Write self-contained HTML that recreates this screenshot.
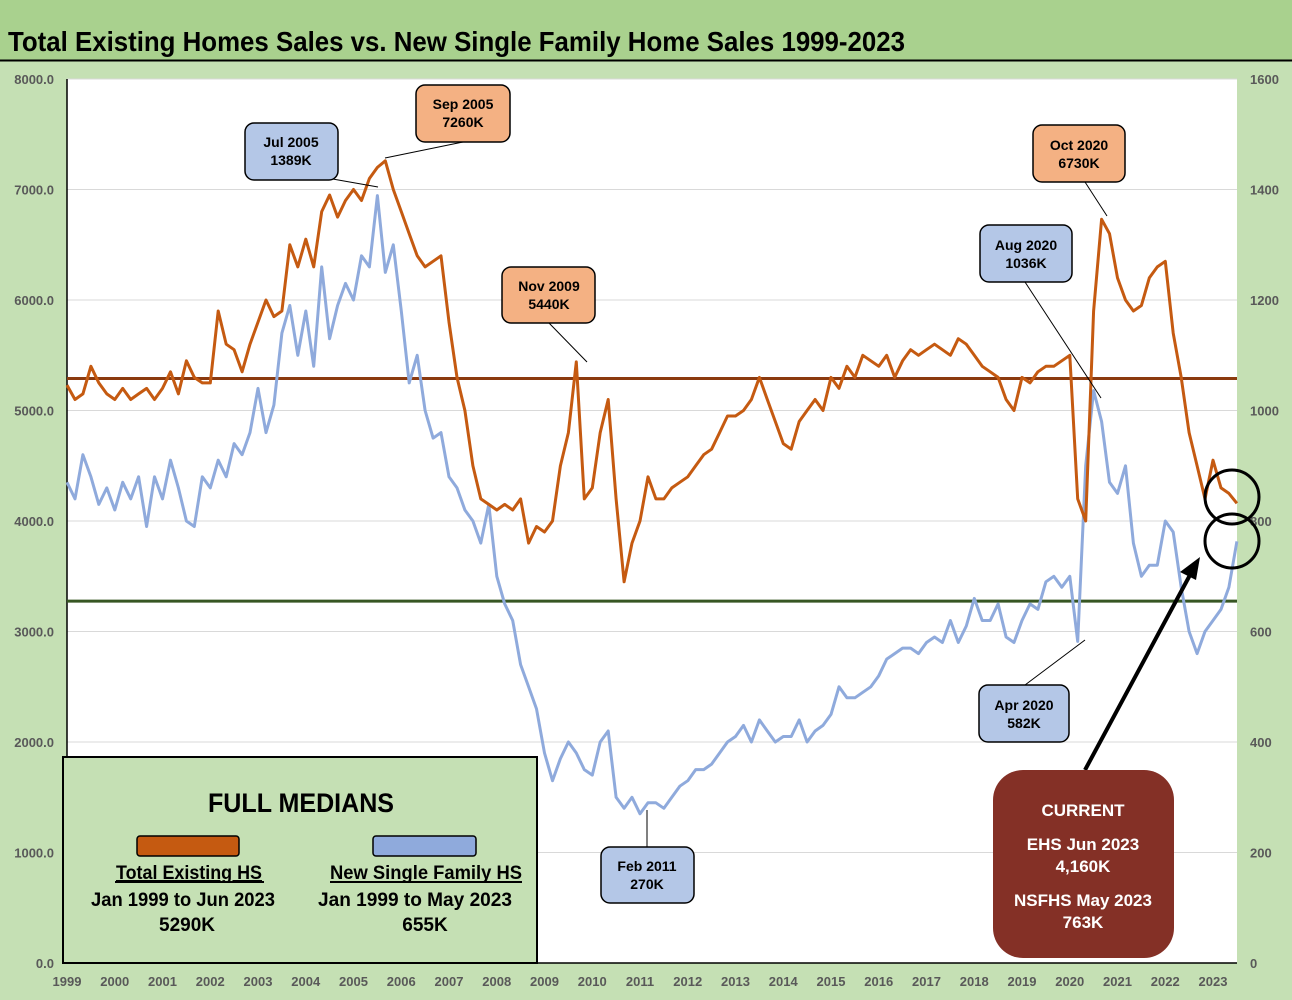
<!DOCTYPE html>
<html><head><meta charset="utf-8"><style>
body{margin:0;background:#c5e0b4;}
svg{display:block;font-family:"Liberation Sans",Arial,sans-serif;}
</style></head><body>
<svg id="chart" width="1292" height="1000" viewBox="0 0 1292 1000">
<rect x="0" y="0" width="1292" height="1000" fill="#c5e0b4"/>
<rect x="0" y="0" width="1292" height="60" fill="#a9d18e"/>
<line x1="0" y1="60.5" x2="1292" y2="60.5" stroke="#000" stroke-width="2"/>
<text x="8" y="51" font-size="28" font-weight="bold" textLength="897" lengthAdjust="spacingAndGlyphs">Total Existing Homes Sales vs. New Single Family Home Sales 1999-2023</text>
<rect x="67" y="79" width="1170" height="884" fill="#fff"/>
<g id="grid"></g>
<g id="axes"></g>
<g id="medians"></g>
<g id="series"></g>
<g id="annot"></g>
</svg>
<script>
const years = ['1999','2000','2001','2002','2003','2004','2005','2006','2007','2008','2009','2010','2011','2012','2013','2014','2015','2016','2017','2018','2019','2020','2021','2022','2023'];
const leftTicks = [0,1000,2000,3000,4000,5000,6000,7000,8000];
const rightTicks = [0,200,400,600,800,1000,1200,1400,1600];
// bi-monthly samples (Jan, Mar, May, Jul, Sep, Nov) starting Jan 1999
const ehsValues = [
5230,5100,5150,5400,5250,5150,
5100,5200,5100,5150,5200,5100,
5200,5350,5150,5450,5300,5250,
5250,5900,5600,5550,5350,5600,
5800,6000,5850,5900,6500,6300,
6550,6300,6800,6950,6750,6900,
7000,6900,7100,7200,7260,7000,
6800,6600,6400,6300,6350,6400,
5800,5300,5000,4500,4200,4150,
4100,4150,4100,4200,3800,3950,
3900,4000,4500,4800,5440,4200,
4300,4800,5100,4200,3450,3800,
4000,4400,4200,4200,4300,4350,
4400,4500,4600,4650,4800,4950,
4950,5000,5100,5300,5100,4900,
4700,4650,4900,5000,5100,5000,
5300,5200,5400,5300,5500,5450,
5400,5500,5300,5450,5550,5500,
5550,5600,5550,5500,5650,5600,
5500,5400,5350,5300,5100,5000,
5300,5250,5350,5400,5400,5450,
5500,4200,4000,5900,6730,6600,
6200,6000,5900,5950,6200,6300,
6350,5700,5300,4800,4500,4200,
4550,4300,4250,4160];
const nsfValues = [
870,840,920,880,830,860,
820,870,840,880,790,880,
840,910,860,800,790,880,
860,910,880,940,920,960,
1040,960,1010,1140,1190,1100,
1180,1080,1260,1130,1190,1230,
1200,1280,1260,1389,1250,1300,
1180,1050,1100,1000,950,960,
880,860,820,800,760,830,
700,650,620,540,500,460,
380,330,370,400,380,350,
340,400,420,300,280,300,
270,290,290,280,300,320,
330,350,350,360,380,400,
410,430,400,440,420,400,
410,410,440,400,420,430,
450,500,480,480,490,500,
520,550,560,570,570,560,
580,590,580,620,580,610,
660,620,620,650,590,580,
620,650,640,690,700,680,
700,582,900,1036,980,870,
850,900,760,700,720,720,
800,780,680,600,560,600,
620,640,680,763];
const ehsMedian = [5290];
const nsfMedian = [655];

const NS='http://www.w3.org/2000/svg';
const X0=67, X1=1237, YT=79, YB=963;
const xOf = t => X0 + (t-1999)*47.75;
const yL = v => YB - v/8000*(YB-YT);
const yR = v => YB - v/1600*(YB-YT);
const tOf = i => 1999 + (i*2)/12;
function mk(tag, attrs, parent){const e=document.createElementNS(NS,tag);for(const k in attrs)e.setAttribute(k,attrs[k]);parent.appendChild(e);return e;}
const grid=document.getElementById('grid'), axes=document.getElementById('axes');
leftTicks.forEach((v,i)=>{
  if(v>0){const l=mk('line',{x1:X0,x2:X1,y1:yL(v),y2:yL(v),stroke:'#d9d9d9','stroke-width':1},grid);
  
  }
  const t=mk('text',{x:54,y:yL(v)+5,'text-anchor':'end','font-size':13,'font-weight':'bold',fill:'#595959'},axes);
  t.textContent=v.toFixed(1);
  
  
});
rightTicks.forEach(v=>{
  const t=mk('text',{x:1250,y:yR(v)+5,'font-size':13,'font-weight':'bold',fill:'#595959'},axes);
  t.textContent=v;
  
  
});
years.forEach((y,i)=>{
  const t=mk('text',{x:xOf(1999+i),y:986,'text-anchor':'middle','font-size':13,'font-weight':'bold',fill:'#595959'},axes);
  t.textContent=y;
  
  
});
mk('line',{x1:X0,x2:X0,y1:YT,y2:YB,stroke:'#000','stroke-width':1.5},axes);
mk('line',{x1:X0,x2:X1,y1:YB,y2:YB,stroke:'#000','stroke-width':1.5},axes);

const med=document.getElementById('medians');
const m1=mk('line',{x1:X0,x2:X1,y1:yL(ehsMedian[0]),y2:yL(ehsMedian[0]),stroke:'#8b3a0f','stroke-width':3},med);


const m2=mk('line',{x1:X0,x2:X1,y1:yR(nsfMedian[0]),y2:yR(nsfMedian[0]),stroke:'#375623','stroke-width':3},med);



const ser=document.getElementById('series');
const pN=mk('polyline',{points:nsfValues.map((v,i)=>xOf(tOf(i)).toFixed(1)+','+yR(v).toFixed(1)).join(' '),fill:'none',stroke:'#8faadc','stroke-width':3,'stroke-linejoin':'round'},ser);


const pE=mk('polyline',{points:ehsValues.map((v,i)=>xOf(tOf(i)).toFixed(1)+','+yL(v).toFixed(1)).join(' '),fill:'none',stroke:'#c55a11','stroke-width':3,'stroke-linejoin':'round'},ser);


</script>
<svg width="0" height="0"></svg>
<script>
const an=document.getElementById('annot');
an.innerHTML = `
<g><line x1="385" y1="158" x2="463" y2="142" stroke="#000"/><rect x="416" y="85" width="94" height="57" rx="9" fill="#f4b183" stroke="#000" stroke-width="1.5"/><text x="463" y="109" text-anchor="middle" font-size="14" font-weight="bold">Sep 2005</text><text x="463" y="127" text-anchor="middle" font-size="14" font-weight="bold">7260K</text></g>
<g><line x1="378" y1="187" x2="293" y2="172" stroke="#000"/><rect x="245" y="123" width="93" height="57" rx="9" fill="#b4c7e7" stroke="#000" stroke-width="1.5"/><text x="291" y="147" text-anchor="middle" font-size="14" font-weight="bold">Jul 2005</text><text x="291" y="165" text-anchor="middle" font-size="14" font-weight="bold">1389K</text></g>
<g><line x1="587" y1="362" x2="549" y2="323" stroke="#000"/><rect x="502" y="267" width="93" height="56" rx="9" fill="#f4b183" stroke="#000" stroke-width="1.5"/><text x="549" y="291" text-anchor="middle" font-size="14" font-weight="bold">Nov 2009</text><text x="549" y="309" text-anchor="middle" font-size="14" font-weight="bold">5440K</text></g>
<g><line x1="647" y1="810" x2="647" y2="847" stroke="#000"/><rect x="601" y="847" width="93" height="56" rx="9" fill="#b4c7e7" stroke="#000" stroke-width="1.5"/><text x="647" y="871" text-anchor="middle" font-size="14" font-weight="bold">Feb 2011</text><text x="647" y="889" text-anchor="middle" font-size="14" font-weight="bold">270K</text></g>
<g><line x1="1107" y1="216" x2="1085" y2="182" stroke="#000"/><rect x="1033" y="125" width="92" height="57" rx="9" fill="#f4b183" stroke="#000" stroke-width="1.5"/><text x="1079" y="150" text-anchor="middle" font-size="14" font-weight="bold">Oct 2020</text><text x="1079" y="168" text-anchor="middle" font-size="14" font-weight="bold">6730K</text></g>
<g><line x1="1101" y1="398" x2="1025" y2="282" stroke="#000"/><rect x="980" y="225" width="92" height="57" rx="9" fill="#b4c7e7" stroke="#000" stroke-width="1.5"/><text x="1026" y="250" text-anchor="middle" font-size="14" font-weight="bold">Aug 2020</text><text x="1026" y="268" text-anchor="middle" font-size="14" font-weight="bold">1036K</text></g>
<g><line x1="1085" y1="640" x2="1025" y2="685" stroke="#000"/><rect x="979" y="685" width="90" height="57" rx="9" fill="#b4c7e7" stroke="#000" stroke-width="1.5"/><text x="1024" y="710" text-anchor="middle" font-size="14" font-weight="bold">Apr 2020</text><text x="1024" y="728" text-anchor="middle" font-size="14" font-weight="bold">582K</text></g>
<circle cx="1232" cy="497" r="27" fill="none" stroke="#000" stroke-width="3"/>
<circle cx="1232" cy="541" r="27" fill="none" stroke="#000" stroke-width="3"/>
<line x1="1085" y1="770" x2="1190" y2="575" stroke="#000" stroke-width="4"/>
<polygon points="1200,557 1180,572 1196,580" fill="#000"/>
<g>
<rect x="63" y="757" width="474" height="206" fill="#c5e0b4" stroke="#000" stroke-width="2"/>
<text x="301" y="812" text-anchor="middle" font-size="27" font-weight="bold" textLength="186" lengthAdjust="spacingAndGlyphs">FULL MEDIANS</text>
<rect x="137" y="836" width="102" height="20" rx="3" fill="#c55a11" stroke="#000" stroke-width="1.5"/>
<rect x="373" y="836" width="103" height="20" rx="3" fill="#8faadc" stroke="#000" stroke-width="1.5"/>
<text x="189" y="879" text-anchor="middle" font-size="19" font-weight="bold" textLength="146" lengthAdjust="spacingAndGlyphs" text-decoration="underline">Total Existing HS</text>
<line x1="115" y1="882" x2="264" y2="882" stroke="#000" stroke-width="2"/>
<text x="183" y="906" text-anchor="middle" font-size="19" font-weight="bold" textLength="184" lengthAdjust="spacingAndGlyphs">Jan 1999 to Jun 2023</text>
<text x="187" y="931" text-anchor="middle" font-size="19" font-weight="bold">5290K</text>
<text x="426" y="879" text-anchor="middle" font-size="19" font-weight="bold" textLength="192" lengthAdjust="spacingAndGlyphs">New Single Family HS</text>
<line x1="330" y1="882" x2="522" y2="882" stroke="#000" stroke-width="2"/>
<text x="415" y="906" text-anchor="middle" font-size="19" font-weight="bold" textLength="194" lengthAdjust="spacingAndGlyphs">Jan 1999 to May 2023</text>
<text x="425" y="931" text-anchor="middle" font-size="19" font-weight="bold">655K</text>
</g>
<g>
<rect x="993" y="770" width="181" height="188" rx="30" fill="#843026"/>
<text x="1083" y="816" text-anchor="middle" font-size="17" font-weight="bold" fill="#fff">CURRENT</text>
<text x="1083" y="850" text-anchor="middle" font-size="17" font-weight="bold" fill="#fff">EHS Jun 2023</text>
<text x="1083" y="872" text-anchor="middle" font-size="17" font-weight="bold" fill="#fff">4,160K</text>
<text x="1083" y="906" text-anchor="middle" font-size="17" font-weight="bold" fill="#fff">NSFHS May 2023</text>
<text x="1083" y="928" text-anchor="middle" font-size="17" font-weight="bold" fill="#fff">763K</text>
</g>`;
</script>
</body></html>
